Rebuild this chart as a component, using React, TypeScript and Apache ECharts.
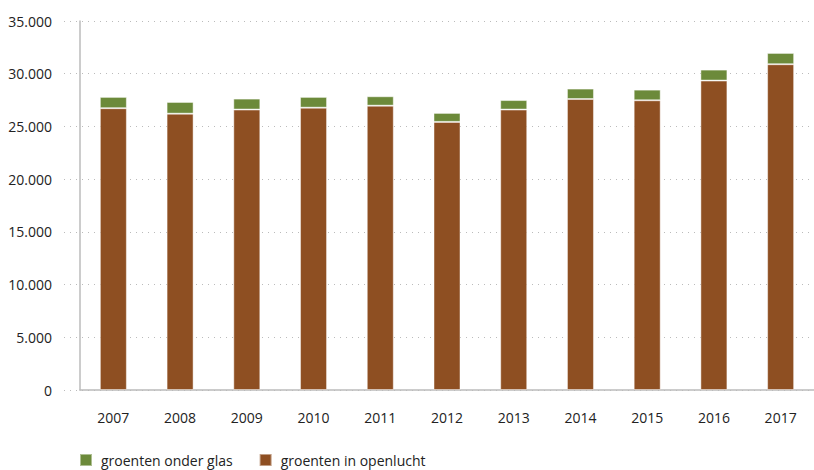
import React, { useEffect, useRef } from "react";
import * as echarts from "echarts";

const years = ["2007", "2008", "2009", "2010", "2011", "2012", "2013", "2014", "2015", "2016", "2017"];
const groentenInOpenlucht = [26730, 26210, 26600, 26780, 26970, 25430, 26600, 27600, 27480, 29350, 30900];
const groentenOnderGlas = [1070, 1110, 1040, 1020, 890, 850, 900, 990, 1010, 1040, 1070];
const yTicks = { min: 0, max: 35000, interval: 5000 };

const fmt = (v: number) => String(v).replace(/\B(?=(\d{3})+(?!\d))/g, ".");

export default function App() {
  const ref = useRef<HTMLDivElement>(null);
  useEffect(() => {
    document.body.style.margin = "0";
    const chart = echarts.init(ref.current!, null, { renderer: "svg" });
    const font = "'Open Sans', 'Noto Sans', sans-serif";
    chart.setOption({
      animation: false,
      textStyle: { fontFamily: font },
      grid: [
        { left: 64, width: 750, top: 21, height: 369 },
        { left: 80, width: 742, top: 21, height: 369 },
      ],
      legend: {
        left: 79,
        top: 453,
        padding: 0,
        itemWidth: 12,
        itemHeight: 12,
        itemGap: 26,
        icon: "rect",
        data: ["groenten onder glas", "groenten in openlucht"],
        textStyle: { fontSize: 14, lineHeight: 14, color: "#222", fontFamily: font, padding: [0, 0, 0, 4] },
      },
      xAxis: [
        { gridIndex: 0, type: "value", min: 0, max: 1, show: false },
        {
          gridIndex: 1,
          type: "category",
          data: years,
          axisLine: { lineStyle: { color: "#bbbbbb", width: 1.5 } },
          axisTick: { show: false },
          axisLabel: { margin: 20, fontSize: 14, color: "#222", fontFamily: font },
        },
      ],
      yAxis: [
        {
          gridIndex: 0,
          type: "value",
          ...yTicks,
          axisLine: { show: false },
          axisTick: { show: false },
          axisLabel: { margin: 12, fontSize: 14, color: "#222", fontFamily: font, formatter: (v: number) => fmt(v) },
          splitLine: { lineStyle: { type: [1, 5], color: "#bbbbbb", width: 1 } },
        },
        {
          gridIndex: 1,
          type: "value",
          ...yTicks,
          axisLine: { show: true, lineStyle: { color: "#bbbbbb", width: 1.5 } },
          axisTick: { show: false },
          axisLabel: { show: false },
          splitLine: { show: false },
        },
      ],
      series: [
        {
          name: "groenten in openlucht",
          type: "bar",
          xAxisIndex: 1,
          yAxisIndex: 1,
          stack: "total",
          data: groentenInOpenlucht,
          barWidth: 27,
          itemStyle: { color: "#8E4F22", borderColor: "rgba(255,255,255,0.45)", borderWidth: 1 },
        },
        {
          name: "groenten onder glas",
          type: "bar",
          xAxisIndex: 1,
          yAxisIndex: 1,
          stack: "total",
          data: groentenOnderGlas,
          barWidth: 27,
          itemStyle: { color: "#6C8A3A", borderColor: "rgba(255,255,255,0.45)", borderWidth: 1 },
        },
      ],
    });
    return () => chart.dispose();
  }, []);
  return <div ref={ref} style={{ width: 814, height: 470 }} />;
}
